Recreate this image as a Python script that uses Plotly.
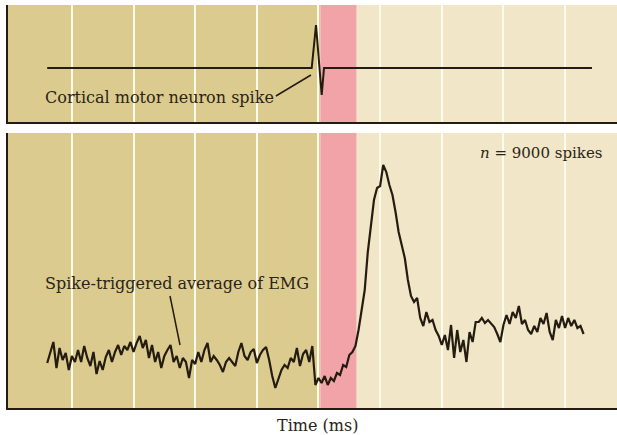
import plotly.graph_objects as go

# ---------------- data ----------------
# Top trace: cortical motor neuron spike (time in ms, amplitude arbitrary units)
spike_t = [-22.0, -0.55, -0.2, 0.02, 0.26, 0.45, 22.18]
spike_v = [0, 0, 43, 6, -27, 0, 0]

# Bottom trace: spike-triggered average of EMG, sampled every 0.25 ms from -22 ms
emg_t0 = -22.0
emg_dt = 0.25
emg_v = [
    -3, 8, 18, -8, 12, 0, 7, -10, 4, -2,
    10, -2, 14, 2, -6, 8, -14, -1, -10, 3,
    10, -2, 8, 15, 5, 14, 10, 18, 8, 17,
    24, 12, 20, 2, 15, -2, 8, -8, 4, 10,
    15, -2, 4, -8, 2, -2, -18, 0, -4, 8,
    -2, 10, 17, -2, 4, 0, -5, -12, -2, 2,
    -2, -6, 8, 17, 4, 0, 8, 11, -3, 5,
    10, 13, 0, -16, -28, -20, -10, -5, -8, 2,
    -2, 12, -6, 6, 10, -2, 14, -25,
    -18, -23, -16, -25, -18, -21, -13, -15, -5, -7, 5, 8,
    14, 30, 48, 70, 108, 135, 160, 172, 174, 195,
    188, 175, 165, 148, 128, 115, 102, 80, 64, 58,
    62, 42, 34, 48, 38, 40, 30, 24, 15, 25,
    10, 35, 2, 30, 8, 20, -2, 28, 18, 38,
    38, 42, 37, 40, 36, 33, 26, 18, 35, 45,
    36, 48, 42, 54, 36, 40, 30, 26, 34, 28,
    42, 36, 47, 28, 20, 40, 32, 44, 32, 42,
    34, 40, 32, 34, 26,
]
emg_t = [emg_t0 + i * emg_dt for i in range(len(emg_v))]

x_range = [-25.18, 24.21]
pink_band = [0.15, 3.1]
grid_ticks = [-20, -15, -10, -5, 0, 5, 10, 15, 20]

label_spike = "Cortical motor neuron spike"
label_emg = "Spike-triggered average of EMG"
label_n = "<i>n</i> = 9000 spikes"
label_x = "Time (ms)"

# ---------------- style ----------------
DARK = "#dccb8f"
LIGHT = "#f1e6c8"
PINK = "#f2a3a8"
GRID = "#fffbea"
INK = "#241c10"
TXT = "#2a2416"
FONT = "DejaVu Serif"

fig = go.Figure()
fig.add_trace(go.Scatter(x=spike_t, y=spike_v, mode="lines", xaxis="x2", yaxis="y2",
                         line=dict(color=INK, width=2), hoverinfo="skip", showlegend=False))
fig.add_trace(go.Scatter(x=emg_t, y=emg_v, mode="lines", xaxis="x", yaxis="y",
                         line=dict(color=INK, width=2.2), hoverinfo="skip", showlegend=False))

shapes = []
for yref in ["y domain", "y2 domain"]:
    xref = "x" if yref == "y domain" else "x2"
    shapes.append(dict(type="rect", xref=xref, yref=yref, x0=x_range[0], x1=pink_band[0],
                       y0=0, y1=1, fillcolor=DARK, line_width=0, layer="below"))
    shapes.append(dict(type="rect", xref=xref, yref=yref, x0=pink_band[0], x1=pink_band[1],
                       y0=0, y1=1, fillcolor=PINK, line_width=0, layer="below"))
    shapes.append(dict(type="rect", xref=xref, yref=yref, x0=pink_band[1], x1=x_range[1],
                       y0=0, y1=1, fillcolor=LIGHT, line_width=0, layer="below"))
# leader lines
shapes.append(dict(type="line", xref="x2", yref="y2", x0=-3.45, y0=-28, x1=-0.61, y1=-7,
                   line=dict(color=INK, width=1.5)))
shapes.append(dict(type="line", xref="x", yref="y", x0=-12.04, y0=64, x1=-11.23, y1=15,
                   line=dict(color=INK, width=1.5)))

axis_common = dict(range=x_range, showgrid=True, gridcolor=GRID, gridwidth=2,
                   tickmode="array", tickvals=grid_ticks, showticklabels=False, ticks="",
                   zeroline=False, showline=True, linecolor=INK, linewidth=2)
yaxis_common = dict(showgrid=False, zeroline=False, showticklabels=False, ticks="",
                    showline=True, linecolor=INK, linewidth=2)

top_dom = [(408 - 122) / 403, 1.0]
bot_dom = [0.0, (408 - 133) / 403]

fig.update_layout(
    width=617, height=435,
    margin=dict(l=8, r=0, t=5, b=27),
    paper_bgcolor="white", plot_bgcolor="white",
    xaxis=dict(anchor="y", **axis_common),
    xaxis2=dict(anchor="y2", matches="x", **axis_common),
    yaxis=dict(domain=bot_dom, range=[-48, 227], **yaxis_common),
    yaxis2=dict(domain=top_dom, range=[-54, 63], **yaxis_common),
    shapes=shapes,
    annotations=[
        dict(text=label_spike, xref="x2", yref="y2", x=-22.34, y=-29, xanchor="left",
             yanchor="middle", showarrow=False, font=dict(family=FONT, size=16, color=TXT)),
        dict(text=label_emg, xref="x", yref="y", x=-22.34, y=77, xanchor="left",
             yanchor="middle", showarrow=False, font=dict(family=FONT, size=16, color=TXT)),
        dict(text=label_n, xref="x", yref="y", x=23.15, y=207, xanchor="right",
             yanchor="middle", showarrow=False, font=dict(family=FONT, size=15, color=TXT)),
        dict(text=label_x, xref="x", yref="paper", x=-0.08, y=(408 - 425) / 403, xanchor="center",
             yanchor="middle", showarrow=False, font=dict(family=FONT, size=16, color=TXT)),
    ],
)

fig.write_html(
    "out.html",
    config={"displayModeBar": False},
    post_script="document.body.style.margin='0';document.body.style.overflow='hidden';",
)
